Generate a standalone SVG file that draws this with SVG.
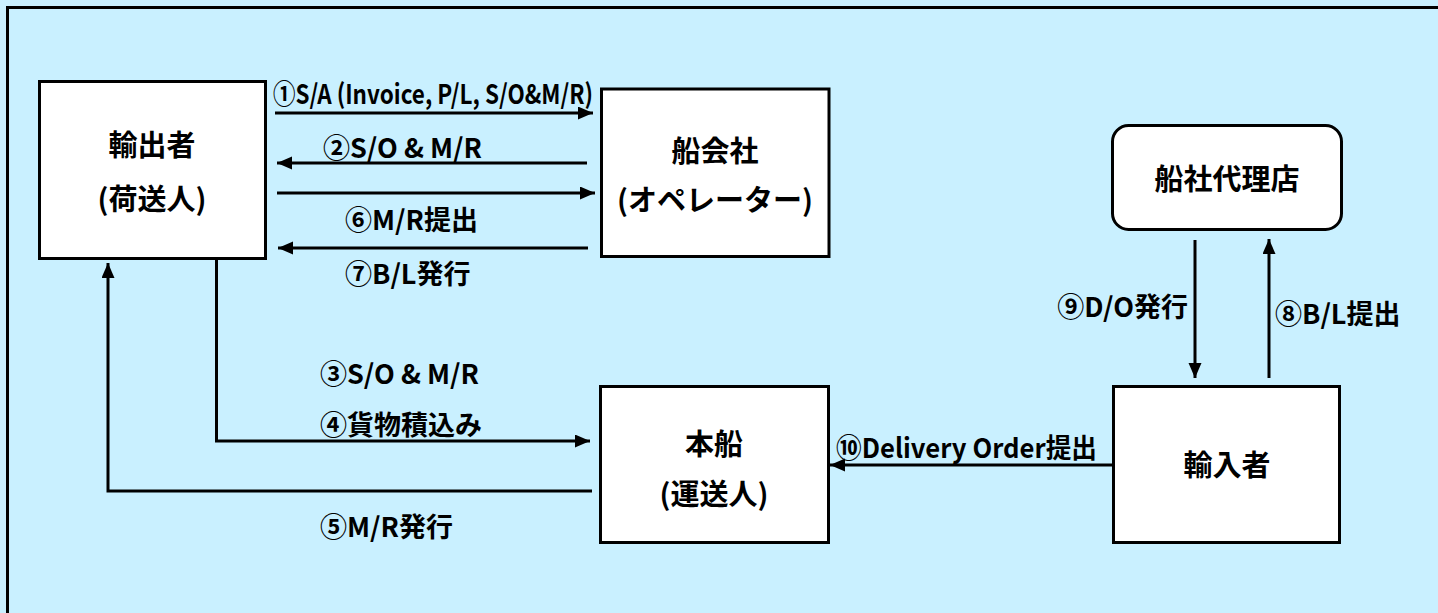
<svg xmlns="http://www.w3.org/2000/svg" width="1438" height="613" viewBox="0 0 1438 613">
<defs>
<style>
.box{fill:#ffffff;stroke:#000000;stroke-width:3}
.ln{fill:none;stroke:#000000;stroke-width:3}
.t{font-family:"Noto Sans CJK JP","Liberation Sans",sans-serif;font-weight:bold;font-size:27px;fill:#000000;dominant-baseline:central}
.n{font-size:29px;text-anchor:middle}
</style>
<marker id="ah" markerUnits="userSpaceOnUse" markerWidth="16" markerHeight="14" refX="15" refY="6.5" orient="auto">
<path d="M0,0 L15,6.5 L0,13 Z" fill="#000000"/>
</marker>
</defs>
<rect x="0" y="0" width="1438" height="613" fill="#C9F0FF"/>
<path d="M7.5,620 V7.5 H1445" fill="none" stroke="#000000" stroke-width="3"/>

<g id="exporter">
<rect class="box" x="39.5" y="81.5" width="226" height="177"/>
<text class="t n" x="152" y="143">輸出者</text>
<text class="t n" x="152" y="197">(荷送人)</text>
</g>
<g id="shipping-company">
<rect class="box" x="601.5" y="89" width="227.5" height="167.5"/>
<text class="t n" x="715" y="149">船会社</text>
<text class="t n" x="715" y="198">(オペレーター)</text>
</g>
<g id="agent">
<rect class="box" x="1112.5" y="125.5" width="229" height="104" rx="16"/>
<text class="t n" x="1227" y="177">船社代理店</text>
</g>
<g id="ship">
<rect class="box" x="600.5" y="386.5" width="228" height="156"/>
<text class="t n" x="714" y="442">本船</text>
<text class="t n" x="714" y="492">(運送人)</text>
</g>
<g id="importer">
<rect class="box" x="1113.5" y="386.5" width="226" height="156"/>
<text class="t n" x="1227" y="463">輸入者</text>
</g>

<g id="connectors">
<line class="ln" x1="275" y1="113" x2="593" y2="113" marker-end="url(#ah)"/>
<line class="ln" x1="587" y1="163" x2="277" y2="163" marker-end="url(#ah)"/>
<line class="ln" x1="277" y1="193" x2="595" y2="193" marker-end="url(#ah)"/>
<line class="ln" x1="588" y1="248" x2="278" y2="248" marker-end="url(#ah)"/>
<path class="ln" d="M216.5,259 V441 H590" marker-end="url(#ah)"/>
<path class="ln" d="M592,491 H108 V263" marker-end="url(#ah)"/>
<line class="ln" x1="1112" y1="465" x2="830" y2="465" marker-end="url(#ah)"/>
<line class="ln" x1="1195" y1="240" x2="1195" y2="378" marker-end="url(#ah)"/>
<line class="ln" x1="1269" y1="378" x2="1269" y2="239" marker-end="url(#ah)"/>
</g>

<g id="labels">
<text class="t" x="273" y="92" font-size="25" textLength="320" lengthAdjust="spacingAndGlyphs">①S/A (Invoice, P/L, S/O&amp;M/R)</text>
<text class="t" x="323" y="146">②S/O &amp; M/R</text>
<text class="t" x="345" y="218">⑥M/R提出</text>
<text class="t" x="345" y="272">⑦B/L発行</text>
<text class="t" x="320" y="372">③S/O &amp; M/R</text>
<text class="t" x="320" y="423">④貨物積込み</text>
<text class="t" x="320" y="525">⑤M/R発行</text>
<text class="t" x="836" y="446" textLength="261" lengthAdjust="spacingAndGlyphs">⑩Delivery Order提出</text>
<text class="t" x="1188" y="305" text-anchor="end">⑨D/O発行</text>
<text class="t" x="1275" y="312">⑧B/L提出</text>
</g>
</svg>
